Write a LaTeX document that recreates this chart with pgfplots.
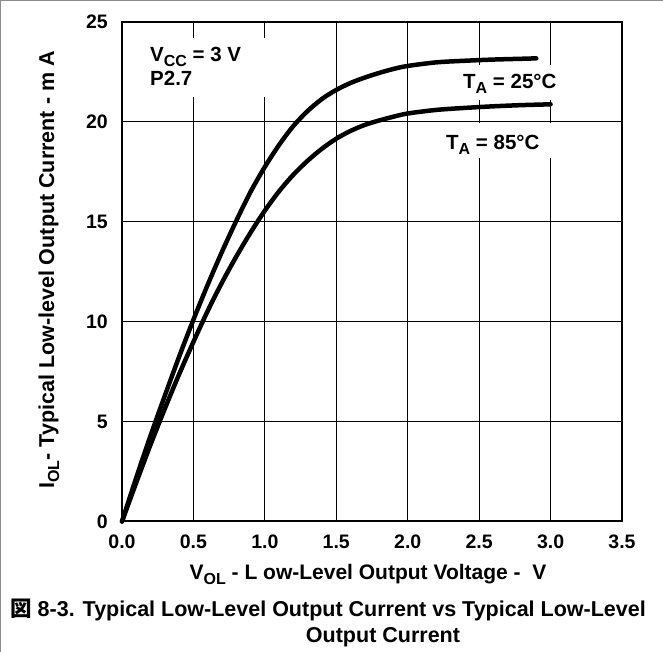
\documentclass[border=0pt]{standalone}
\usepackage{fontspec}
\setmainfont{Liberation Sans}
\newfontfamily\cjk{Noto Sans CJK JP}
\usepackage{pgfplots}
\pgfplotsset{compat=1.18}
\newcommand\F{\fontsize{19.5}{23}\selectfont\bfseries}
\newcommand\G{\fontsize{20.5}{24}\selectfont\bfseries}
\newcommand\T{\fontsize{21}{25}\selectfont\bfseries}
\newcommand\C{\fontsize{21.5}{25}\selectfont\bfseries}
\newcommand\sub[1]{\raisebox{-5pt}{\fontsize{16}{16}\selectfont\bfseries #1}}
\begin{document}
\begin{tikzpicture}[x=1pt,y=1pt]
\useasboundingbox (-122,-130.5) rectangle (541,521.5);
\draw[black!45, line width=1.5pt] (-121.25,-130.5) -- (-121.25,520.75) -- (541,520.75);
\begin{axis}[
  at={(0,0)}, anchor=south west,
  scale only axis, width=500pt, height=499.5pt,
  xmin=0, xmax=3.5, ymin=0, ymax=25,
  xtick={0,0.5,1,1.5,2,2.5,3,3.5},
  xticklabels={0.0,0.5,1.0,1.5,2.0,2.5,3.0,3.5},
  ytick={0,5,10,15,20,25},
  yticklabels={0,5,10,15,20,25},
  grid=major,
  major grid style={black, line width=1.2pt},
  axis line style={black, line width=2pt},
  tick style={draw=none},
  /pgf/number format/assume math mode=true,
  xticklabel style={font=\F, anchor=base, inner sep=0pt, yshift=-27.5pt},
  yticklabel style={font=\F, anchor=base east, inner sep=0pt, xshift=-14pt, yshift=-7pt},
  clip=false,
]
\addplot[black, line width=4.5pt, line cap=round, line join=round, smooth] coordinates {
(0,0) (0.1,2.2) (0.2,4.3) (0.3,6.3) (0.4,8.25) (0.5,10.1) (0.6,11.85) (0.7,13.5)
(0.8,15.05) (0.9,16.5) (1.0,17.75) (1.1,18.85) (1.2,19.8) (1.3,20.55) (1.4,21.15)
(1.5,21.6) (1.6,21.95) (1.7,22.22) (1.8,22.45) (1.9,22.65) (2.0,22.8) (2.2,22.98)
(2.4,23.06) (2.6,23.12) (2.8,23.16) (2.9,23.18)};
\addplot[black, line width=4.5pt, line cap=round, line join=round, smooth] coordinates {
(0,0) (0.1,1.95) (0.2,3.85) (0.3,5.65) (0.4,7.37) (0.5,8.99) (0.6,10.54) (0.7,11.96)
(0.8,13.26) (0.9,14.46) (1.0,15.56) (1.1,16.53) (1.2,17.36) (1.3,18.06) (1.4,18.66)
(1.5,19.16) (1.6,19.55) (1.7,19.85) (1.8,20.07) (1.9,20.26) (2.0,20.42) (2.2,20.6)
(2.4,20.7) (2.6,20.78) (2.8,20.84) (3.0,20.88)};
\end{axis}
% white boxes breaking grid lines behind labels
\fill[white] (18,424.5) rectangle (148,483.5);
\fill[white] (333,421.5) rectangle (443,456.5);
\fill[white] (308,363.5) rectangle (438,398.5);
% annotations
\node[anchor=base west, inner sep=0pt, font=\G] at (28,459.5) {V\sub{CC} = 3 V};
\node[anchor=base west, inner sep=0pt, font=\G] at (28,435.5) {P2.7};
\node[anchor=base west, inner sep=0pt, font=\G] at (341,432.5) {T\sub{A} = 25°C};
\node[anchor=base west, inner sep=0pt, font=\G] at (324,371.5) {T\sub{A} = 85°C};
% axis titles
\node[anchor=base, inner sep=0pt, font=\T] at (246,-58.5) {V\sub{OL} - L ow-Level Output Voltage -\ \ V};
\node[rotate=90, inner sep=0pt, font=\C] at (-73,251.5) {I\sub{OL}- Typical Low-level Output Current - m A};
% caption
\node[anchor=base, inner sep=0pt, font=\C] at (206,-95.5) {{\cjk\bfseries 図} 8-3. Typical Low-Level Output Current vs Typical Low-Level};
\node[anchor=base, inner sep=0pt, font=\C] at (261,-120.5) {Output Current};
\end{tikzpicture}
\end{document}
